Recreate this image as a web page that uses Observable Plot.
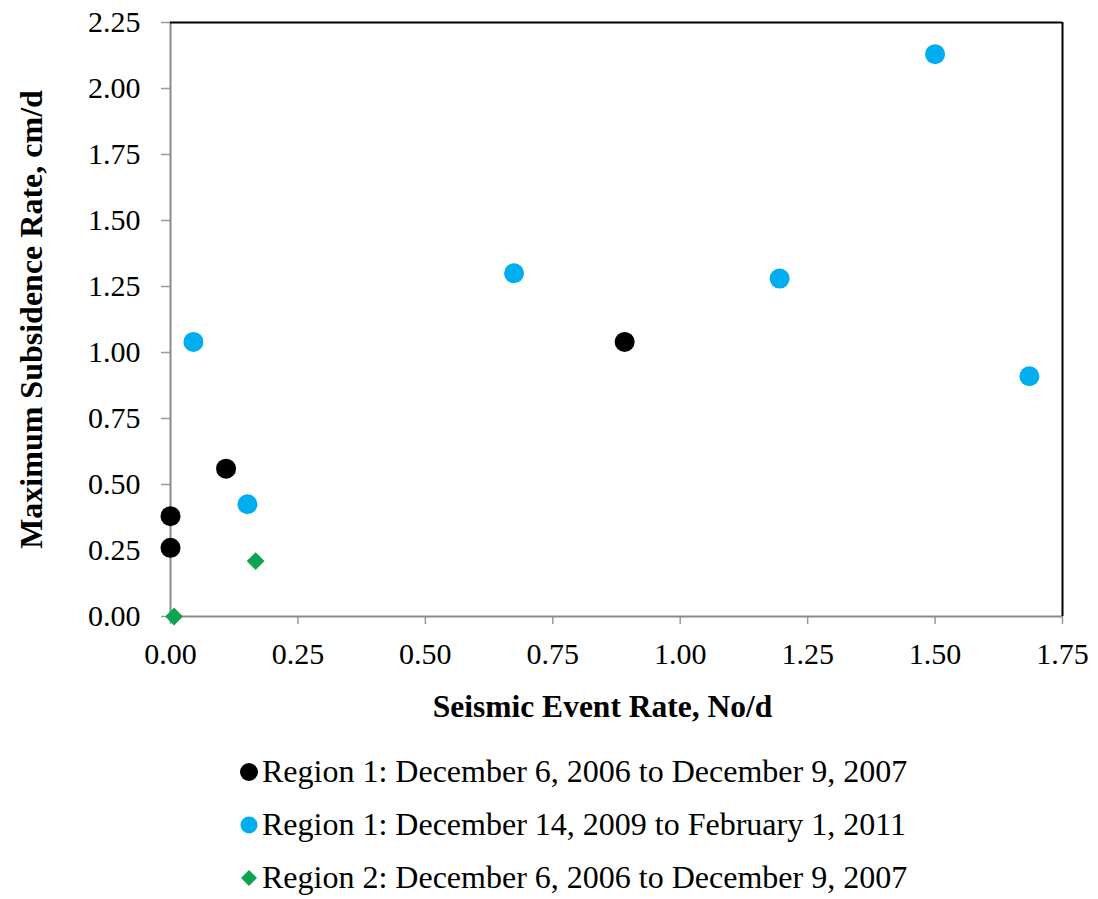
<!DOCTYPE html>
<html>
<head>
<meta charset="utf-8">
<script src="https://cdn.jsdelivr.net/npm/d3@7"></script>
<script src="https://cdn.jsdelivr.net/npm/@observablehq/plot@0.6"></script>
<style>
  body { margin: 0; background: #fff; }
  #chart { width: 1098px; }
  .legend { font-family: "Liberation Serif", "Times New Roman", serif; font-size: 32px; color: #000; padding-left: 238px; }
  .legend .row { height: 53px; line-height: 53px; display: flex; align-items: center; }
  .legend svg { margin-right: 2px; }
</style>
</head>
<body>
<div id="chart"></div>
<script>
// Seismic event rate (No/d) vs. maximum subsidence rate (cm/d)
const seriesNames = [
  "Region 1: December 6, 2006 to December 9, 2007",
  "Region 1: December 14, 2009 to February 1, 2011",
  "Region 2: December 6, 2006 to December 9, 2007"
];
const seriesColors = ["#000000", "#00aeef", "#0ea350"];
const seriesSymbols = ["circle", "circle", "diamond2"];

const r1aRate = [0.000, 0.000, 0.109, 0.891];
const r1aSubsidence = [0.38, 0.26, 0.56, 1.04];

const r1bRate = [0.045, 0.151, 0.674, 1.195, 1.500, 1.685];
const r1bSubsidence = [1.04, 0.425, 1.30, 1.28, 2.13, 0.91];

const r2Rate = [0.007, 0.167];
const r2Subsidence = [0.00, 0.21];

const xTicks = [0, 0.25, 0.5, 0.75, 1.0, 1.25, 1.5, 1.75];
const yTicks = [0, 0.25, 0.5, 0.75, 1.0, 1.25, 1.5, 1.75, 2.0, 2.25];

const rows = [
  ...r1aRate.map((x, i) => ({x, y: r1aSubsidence[i], s: 0})),
  ...r1bRate.map((x, i) => ({x, y: r1bSubsidence[i], s: 1})),
  ...r2Rate.map((x, i) => ({x, y: r2Subsidence[i], s: 2}))
];

const serif = "'Liberation Serif', 'Times New Roman', serif";

const chart = Plot.plot({
  width: 1098,
  height: 745,
  marginLeft: 170,
  marginRight: 36,
  marginTop: 22,
  marginBottom: 129,
  style: {fontFamily: serif, fontSize: "30px", color: "#000", background: "#fff", overflow: "visible"},
  x: {domain: [0, 1.75]},
  y: {domain: [0, 2.25]},
  marks: [
    Plot.axisY({ticks: yTicks, tickFormat: d => d.toFixed(2), tickSize: 9, tickPadding: 21, stroke: "#9a9a9a", strokeWidth: 1.5, label: null}),
    Plot.axisX({ticks: xTicks, tickFormat: d => d.toFixed(2), tickSize: 8, tickPadding: 18, stroke: "#9a9a9a", strokeWidth: 1.5, label: null}),
    Plot.ruleX([0], {stroke: "#8a8a8a", strokeWidth: 2}),
    Plot.ruleY([0], {stroke: "#8a8a8a", strokeWidth: 2}),
    Plot.ruleY([2.25], {stroke: "#000", strokeWidth: 2}),
    Plot.ruleX([1.75], {stroke: "#000", strokeWidth: 2}),
    Plot.dot(rows.filter(d => d.s < 2), {x: "x", y: "y", r: 10, fill: d => seriesColors[d.s], symbol: d => seriesSymbols[d.s]}),
    Plot.dot(rows.filter(d => d.s === 2), {x: "x", y: "y", r: 8, fill: d => seriesColors[d.s], symbol: d => seriesSymbols[d.s]}),
    Plot.text(["Seismic Event Rate, No/d"], {frameAnchor: "bottom", dx: -14, dy: 100, fontWeight: "bold", fontSize: 31.5, fill: "#000"}),
    Plot.text(["Maximum Subsidence Rate, cm/d"], {frameAnchor: "left", textAnchor: "middle", rotate: -90, dx: -139, fontWeight: "bold", fontSize: 32, fill: "#000"})
  ]
});

const container = document.getElementById("chart");
container.appendChild(chart);

// Legend below the chart
const legend = document.createElement("div");
legend.className = "legend";
seriesNames.forEach((name, i) => {
  const row = document.createElement("div");
  row.className = "row";
  const sym = d3.create("svg").attr("width", 22).attr("height", 22);
  if (seriesSymbols[i] === "circle") {
    sym.append("circle").attr("cx", 11).attr("cy", 11).attr("r", i === 0 ? 9 : 8.5).attr("fill", seriesColors[i]);
  } else {
    sym.append("path").attr("d", "M11,3L19,11L11,19L3,11Z").attr("fill", seriesColors[i]);
  }
  row.appendChild(sym.node());
  const label = document.createElement("span");
  label.textContent = name;
  row.appendChild(label);
  legend.appendChild(row);
});
container.appendChild(legend);
</script>
</body>
</html>
